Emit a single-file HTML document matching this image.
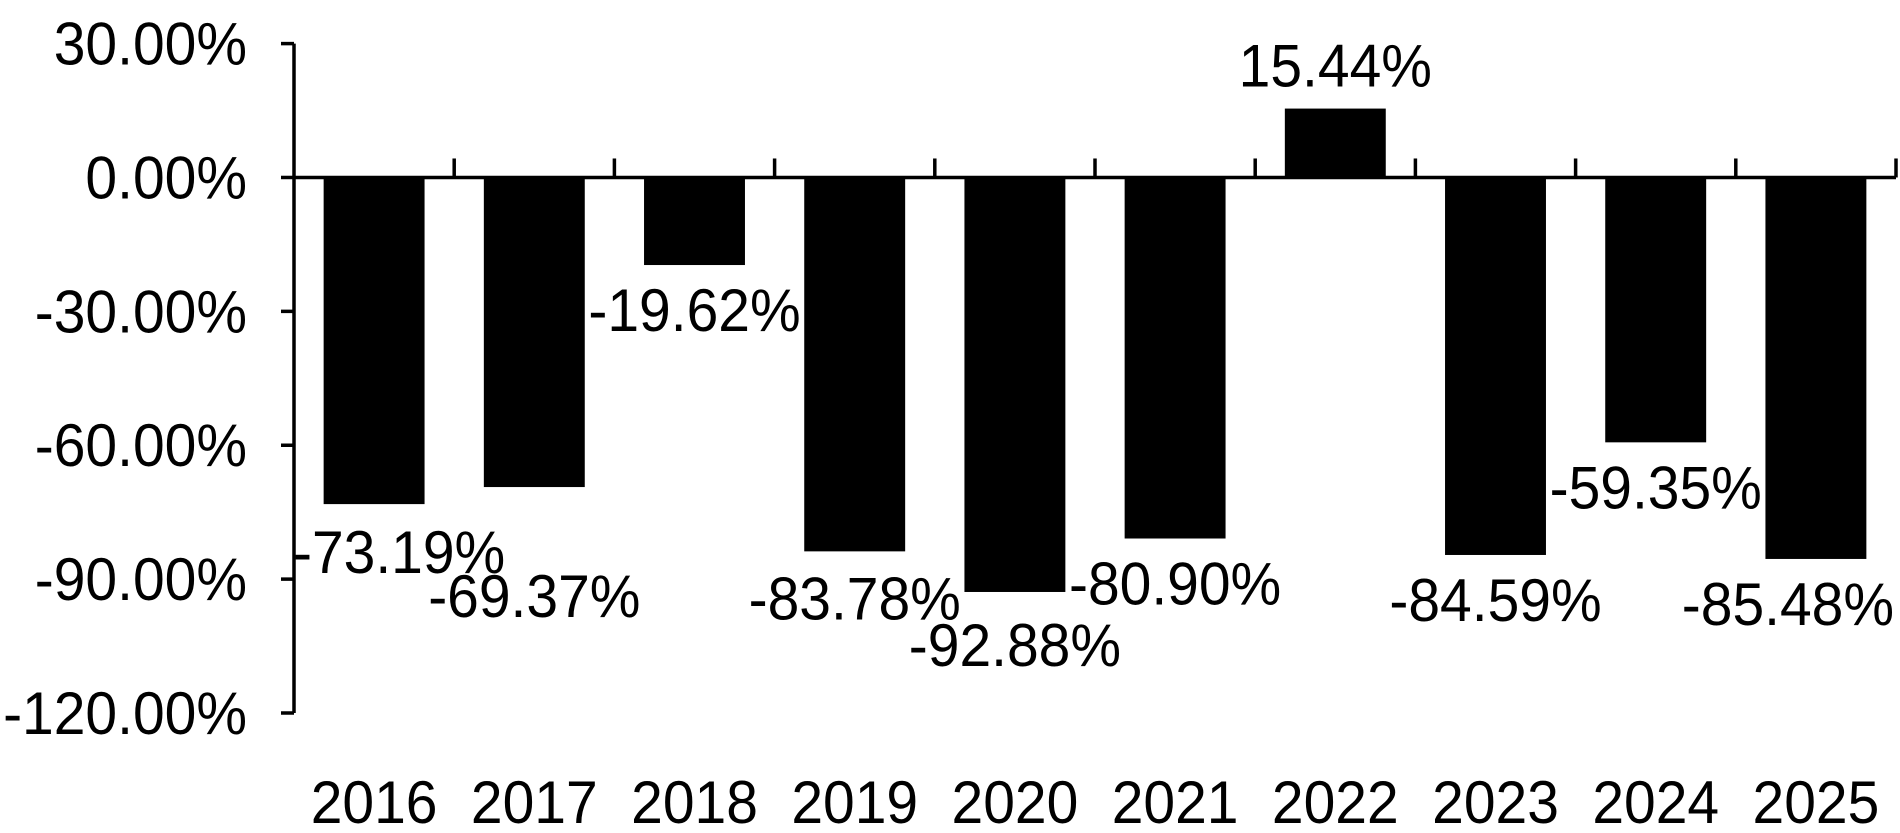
<!DOCTYPE html>
<html><head><meta charset="utf-8"><style>
html,body{margin:0;padding:0;background:#fff;}
svg{display:block;font-family:"Liberation Sans",sans-serif;}
</style></head><body>
<svg id="chart" width="1900" height="833" viewBox="0 0 1900 833" xmlns="http://www.w3.org/2000/svg"></svg>
<script>
const categories = ["2016","2017","2018","2019","2020","2021","2022","2023","2024","2025"];
const values = [-73.19,-69.37,-19.62,-83.78,-92.88,-80.90,15.44,-84.59,-59.35,-85.48];
const valueLabels = ["-73.19%","-69.37%","-19.62%","-83.78%","-92.88%","-80.90%","15.44%","-84.59%","-59.35%","-85.48%"];
const yTicks = [30,0,-30,-60,-90,-120];
const yTickLabels = ["30.00%","0.00%","-30.00%","-60.00%","-90.00%","-120.00%"];
const labelNudgeX = [25,0,0,0,0,0,0,0,0,-28];
const labelNudgeY = [3,64,0,2,8,0,0,0,0,0];

const svg = document.getElementById('chart');
const NS = 'http://www.w3.org/2000/svg';
const left = 294, right = 1896, y30 = 43.6, yM120 = 713;
const y = v => y30 + (30 - v) * (yM120 - y30) / 150;
const bandW = (right - left) / categories.length;
const x = i => left + i * bandW;
const barW = bandW * 0.63;
const FS = 60, SX = 0.95;
function mk(tag, attrs){const e=document.createElementNS(NS,tag);for(const k in attrs)e.setAttribute(k,attrs[k]);svg.appendChild(e);return e;}
function txt(tx, ty, anchor, s){
  const t = mk('text',{transform:'translate('+tx+','+ty+') scale('+SX+',1)','font-size':FS,'text-anchor':anchor,fill:'#000'});
  t.textContent = s; return t;
}

values.forEach((v,i)=>{
  const cx = x(i)+bandW/2;
  const r = mk('rect',{x:cx-barW/2,y:Math.min(y(v),y(0)),width:barW,height:Math.abs(y(v)-y(0)),fill:'#000'});
  
  
  const by = v<0 ? y(v)+66+labelNudgeY[i] : y(v)-22;
  const t = txt(cx+labelNudgeX[i], by, 'middle', valueLabels[i]);
  
  
  const xl = txt(cx, 823, 'middle', categories[i]);
  
  
  const tk = mk('line',{x1:x(i+1),x2:x(i+1),y1:y(0),y2:y(0)-19,stroke:'#000','stroke-width':3.5});
  
  
});
const ya = mk('line',{x1:left,x2:left,y1:y30,y2:yM120,stroke:'#000','stroke-width':3.5});


yTicks.forEach((v,i)=>{
  const l = mk('line',{x1:left-13,x2:left,y1:y(v),y2:y(v),stroke:'#000','stroke-width':3.5});
  
  
  const t = txt(247, y(v)+21, 'end', yTickLabels[i]);
  
  
});
const xa = mk('line',{x1:left,x2:right,y1:y(0),y2:y(0),stroke:'#000','stroke-width':3.5});


</script>
</body></html>
